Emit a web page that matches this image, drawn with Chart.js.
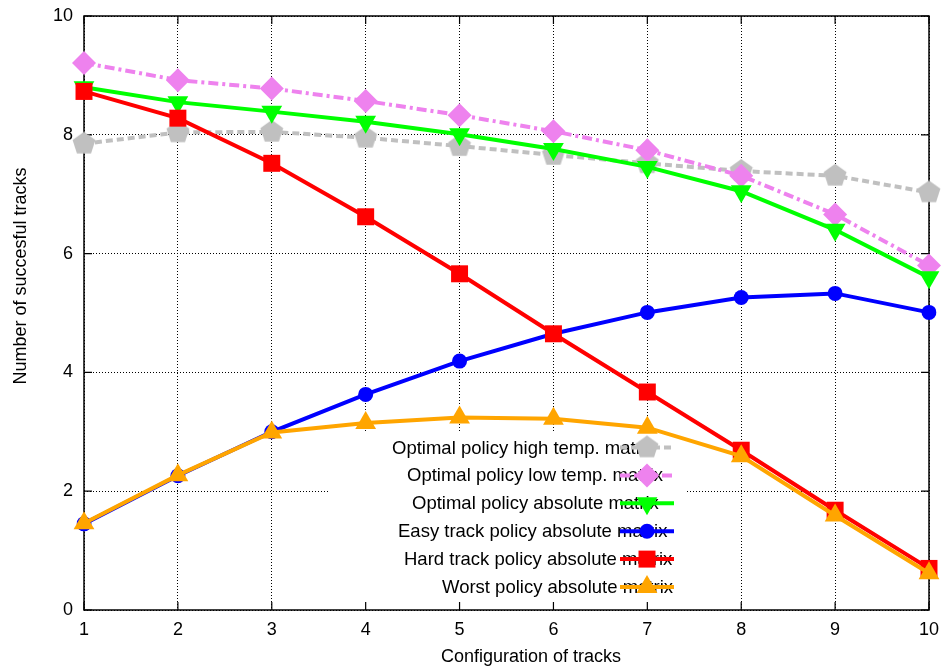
<!DOCTYPE html>
<html lang="en">
<head>
<meta charset="UTF-8" />
<title>Number of succesful tracks</title>
<script src="https://cdn.jsdelivr.net/npm/chart.js"></script>
<style>
  body { margin: 0; background: #fff; }
  canvas { display: block; }
</style>
</head>
<body>
<canvas id="tracksChart" width="944" height="669"></canvas>
<script>
// data
const configs = ["1", "2", "3", "4", "5", "6", "7", "8", "9", "10"];
const highTemp = [7.85, 8.04, 8.05, 7.95, 7.81, 7.66, 7.52, 7.39, 7.31, 7.03];
const lowTemp = [9.21, 8.92, 8.78, 8.57, 8.33, 8.06, 7.74, 7.31, 6.66, 5.80];
const optimalAbs = [8.80, 8.55, 8.39, 8.22, 8.01, 7.76, 7.46, 7.05, 6.40, 5.60];
const easyAbs = [1.45, 2.26, 3.00, 3.63, 4.19, 4.65, 5.01, 5.26, 5.33, 5.01];
const hardAbs = [8.73, 8.28, 7.52, 6.62, 5.66, 4.65, 3.67, 2.69, 1.68, 0.70];
const worstAbs = [1.46, 2.27, 2.99, 3.15, 3.24, 3.22, 3.07, 2.59, 1.59, 0.62];
const yTicks = [0, 2, 4, 6, 8, 10];
const seriesNames = [
  "Optimal policy high temp. matrix",
  "Optimal policy low temp. matrix",
  "Optimal policy absolute matrix",
  "Easy track policy absolute matrix",
  "Hard track policy absolute matrix",
  "Worst policy absolute matrix",
];

const FONT = '"Liberation Sans", Arial, Helvetica, sans-serif';
// gnuplot justifies the key text by an estimated width, so each row starts a bit differently
const keyTextLeft = [392, 407, 412, 398, 404, 442];

// gnuplot-like pentagon, Chart.js has no such point style
function makePentagon(color, r) {
  const c = document.createElement("canvas");
  c.width = c.height = Math.ceil(r * 2 + 2);
  const g = c.getContext("2d");
  const m = c.width / 2;
  g.beginPath();
  for (let i = 0; i < 5; i++) {
    const a = -Math.PI / 2 + i * 2 * Math.PI / 5;
    const px = m + Math.cos(a) * r, py = m + Math.sin(a) * r;
    i ? g.lineTo(px, py) : g.moveTo(px, py);
  }
  g.closePath();
  g.fillStyle = color;
  g.fill();
  return c;
}
const pentagon = makePentagon("#c0c0c0", 12);

const styles = [
  { color: "#c0c0c0", dash: [7, 4], point: pentagon, radius: 12, rot: 0 },
  { color: "#ee82ee", dash: [10, 4, 3, 4], point: "rectRot", radius: 12, rot: 0 },
  { color: "#00ff00", dash: [], point: "triangle", radius: 12, rot: 180 },
  { color: "#0000ff", dash: [], point: "circle", radius: 7.5, rot: 0 },
  { color: "#ff0000", dash: [], point: "rect", radius: 12, rot: 0 },
  { color: "#ffa500", dash: [], point: "triangle", radius: 12, rot: 0 },
];
const values = [highTemp, lowTemp, optimalAbs, easyAbs, hardAbs, worstAbs];

const datasets = values.map((v, i) => ({
  label: seriesNames[i],
  data: v,
  borderColor: styles[i].color,
  backgroundColor: styles[i].color,
  borderWidth: 4,
  borderDash: styles[i].dash,
  pointStyle: styles[i].point,
  pointRadius: styles[i].radius,
  pointRotation: styles[i].rot,
  pointBorderWidth: 0,
  pointBackgroundColor: styles[i].color,
  tension: 0,
  order: values.length - i, // last series on top, like gnuplot
}));

function drawMarker(ctx, s, x, y) {
  const r = s.radius;
  ctx.save();
  ctx.fillStyle = s.color;
  ctx.beginPath();
  if (s.point instanceof HTMLCanvasElement) {
    ctx.drawImage(s.point, x - s.point.width / 2, y - s.point.height / 2);
    ctx.restore();
    return;
  } else if (s.point === "circle") {
    ctx.arc(x, y, r, 0, Math.PI * 2);
  } else if (s.point === "rect") {
    const h = r * Math.SQRT1_2;
    ctx.rect(x - h, y - h, 2 * h, 2 * h);
  } else if (s.point === "rectRot") {
    ctx.moveTo(x, y - r); ctx.lineTo(x + r, y); ctx.lineTo(x, y + r); ctx.lineTo(x - r, y);
  } else if (s.point === "triangle") {
    let a = s.rot * Math.PI / 180;
    for (let k = 0; k < 3; k++) {
      const px = x + Math.sin(a) * r, py = y - Math.cos(a) * r;
      k ? ctx.lineTo(px, py) : ctx.moveTo(px, py);
      a += 2 * Math.PI / 3;
    }
  }
  ctx.closePath();
  ctx.fill();
  ctx.restore();
}

const gnuplotLook = {
  id: "gnuplotLook",
  beforeDatasetsDraw(chart) {
    const { ctx, chartArea: a, scales } = chart;
    ctx.save();
    // key box hides the grid under it
    ctx.fillStyle = "#fff";
    ctx.fillRect(328, 433, 358, a.bottom - 433);
    // border and inward ticks
    ctx.strokeStyle = "#000";
    ctx.lineWidth = 1.5;
    ctx.strokeRect(a.left, a.top, a.right - a.left, a.bottom - a.top);
    ctx.lineWidth = 1.2;
    ctx.beginPath();
    configs.forEach((c, i) => {
      const px = scales.x.getPixelForValue(i);
      ctx.moveTo(px, a.bottom); ctx.lineTo(px, a.bottom - 8);
      ctx.moveTo(px, a.top); ctx.lineTo(px, a.top + 8);
    });
    yTicks.forEach((t) => {
      const py = scales.y.getPixelForValue(t);
      ctx.moveTo(a.left, py); ctx.lineTo(a.left + 8, py);
      ctx.moveTo(a.right, py); ctx.lineTo(a.right - 8, py);
    });
    ctx.stroke();
    ctx.restore();
  },
  afterDatasetsDraw(chart) {
    const { ctx } = chart;
    ctx.save();
    ctx.font = "18.5px " + FONT;
    ctx.fillStyle = "#000";
    // key
    seriesNames.forEach((name, i) => {
      const y = 447.5 + i * 27.9;
      ctx.textAlign = "left";
      ctx.textBaseline = "alphabetic";
      ctx.fillStyle = "#000";
      ctx.fillText(name, keyTextLeft[i], y + 6);
      const s = styles[i];
      ctx.strokeStyle = s.color;
      ctx.lineWidth = 4;
      ctx.setLineDash(s.dash);
      ctx.beginPath();
      ctx.moveTo(620, y); ctx.lineTo(674, y);
      ctx.stroke();
      ctx.setLineDash([]);
      drawMarker(ctx, s, 647, y);
    });
    // axis titles
    ctx.font = "18px " + FONT;
    ctx.fillStyle = "#000";
    ctx.textAlign = "center";
    ctx.textBaseline = "alphabetic";
    ctx.fillText("Configuration of tracks", 531, 662);
    ctx.translate(26, 276);
    ctx.rotate(-Math.PI / 2);
    ctx.fillText("Number of succesful tracks", 0, 0);
    ctx.restore();
  },
};

new Chart(document.getElementById("tracksChart"), {
  type: "line",
  data: { labels: configs, datasets: datasets },
  options: {
    responsive: false,
    animation: false,
    devicePixelRatio: 1,
    layout: { padding: { top: 16, right: 15, left: 0, bottom: 0 } },
    plugins: { legend: { display: false }, tooltip: { enabled: false } },
    scales: {
      x: {
        type: "category",
        offset: false,
        afterFit: (s) => { s.height = 59; s.paddingLeft = 0; s.paddingRight = 0; },
        grid: { color: "#000", lineWidth: 1, drawTicks: false },
        border: { display: false, dash: [1, 2] },
        ticks: { color: "#000", padding: 9, font: { family: FONT, size: 18 } },
      },
      y: {
        min: 0,
        max: 10,
        afterFit: (s) => { s.width = 84; s.paddingTop = 0; s.paddingBottom = 0; },
        afterBuildTicks: (s) => { s.ticks = yTicks.map((v) => ({ value: v })); },
        grid: { color: "#000", lineWidth: 1, drawTicks: false },
        border: { display: false, dash: [1, 2] },
        ticks: { color: "#000", padding: 11, font: { family: FONT, size: 18 } },
      },
    },
  },
  plugins: [gnuplotLook],
});
</script>
</body>
</html>
